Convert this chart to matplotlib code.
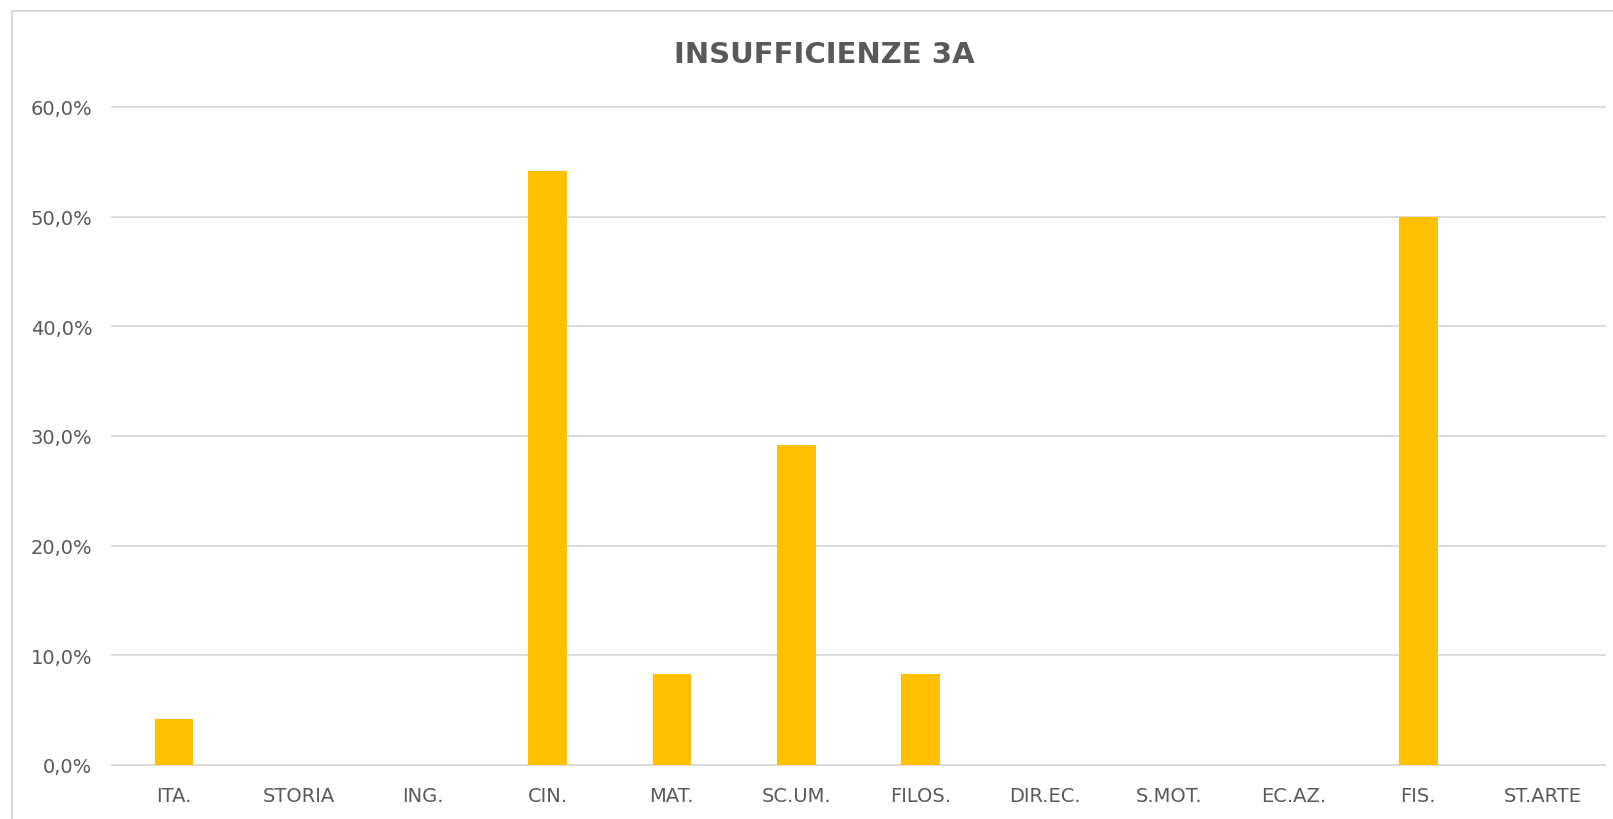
import numpy as np
import matplotlib.pyplot as plt
from matplotlib.patches import Rectangle

# data
materie = ["ITA.", "STORIA", "ING.", "CIN.", "MAT.", "SC.UM.", "FILOS.",
           "DIR.EC.", "S.MOT.", "EC.AZ.", "FIS.", "ST.ARTE"]
insufficienze = [0.042, 0.0, 0.0, 0.542, 0.083, 0.292, 0.083,
                 0.0, 0.0, 0.0, 0.50, 0.0]
yticks = [0.0, 0.1, 0.2, 0.3, 0.4, 0.5, 0.6]
ytick_labels = ["0,0%", "10,0%", "20,0%", "30,0%", "40,0%", "50,0%", "60,0%"]

grigio = "#595959"
giallo = "#FFC000"

fig = plt.figure(figsize=(16.13, 8.2), dpi=100)
ax = fig.add_axes([0.0694, 0.0659, 0.9256, 0.8024])

x = np.arange(len(materie))
ax.bar(x, insufficienze, width=0.31, color=giallo, zorder=3)

ax.set_xlim(-0.5, len(materie) - 0.5)
ax.set_ylim(0, 0.6)
ax.set_yticks(yticks)
ax.set_yticklabels(ytick_labels, fontsize=14, color=grigio)
ax.set_xticks(x)
ax.set_xticklabels(materie, fontsize=14, color=grigio)
ax.tick_params(axis="both", length=0)
ax.tick_params(axis="x", pad=15)
ax.tick_params(axis="y", pad=14)

ax.grid(axis="y", color="#d9d9d9", linewidth=1.3, zorder=0)
for line in ax.get_ygridlines():
    line.set_clip_on(False)
for s in ["top", "right", "left"]:
    ax.spines[s].set_visible(False)
ax.spines["bottom"].set_color("#d9d9d9")
ax.spines["bottom"].set_linewidth(1.3)

fig.text(0.511, 0.933, "INSUFFICIENZE 3A", ha="center", va="center",
         fontsize=21, fontweight="bold", color=grigio)

# bordo del grafico (tagliato a destra e in basso)
fig.patches.append(Rectangle((12 / 1613, -0.05), 1.2, (820 - 12) / 820 + 0.05,
                             transform=fig.transFigure, fill=False,
                             edgecolor="#d9d9d9", linewidth=1.5))

fig.savefig("out.png", dpi=100)
